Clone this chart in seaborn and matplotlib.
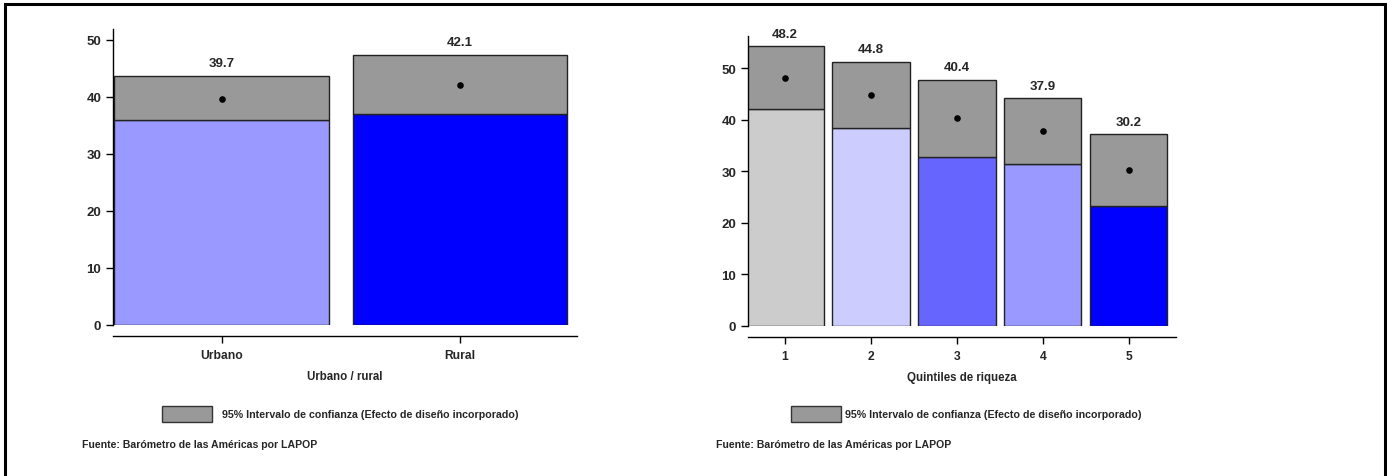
import numpy as np
import pandas as pd
import seaborn as sns
import matplotlib.pyplot as plt
from matplotlib.patches import Rectangle

# data
area_cats = ['Urbano', 'Rural']
area_mean = [39.7, 42.1]
area_lo = [35.9, 37.0]
area_hi = [43.6, 47.3]
area_colors = ['#9999ff', '#0000ff']

quint_cats = ['1', '2', '3', '4', '5']
quint_mean = [48.2, 44.8, 40.4, 37.9, 30.2]
quint_lo = [42.2, 38.4, 32.9, 31.5, 23.2]
quint_hi = [54.3, 51.3, 47.8, 44.2, 37.2]
quint_colors = ['#cccccc', '#ccccff', '#6666ff', '#9999ff', '#0000ff']

ci_color = '#999999'
legend_text = '95% Intervalo de confianza (Efecto de diseño incorporado)'
source_text = 'Fuente: Barómetro de las Américas por LAPOP'

sns.set_style('white')
plt.rcParams['font.family'] = ['Liberation Sans', 'DejaVu Sans']
plt.rcParams['font.weight'] = 'bold'

fig = plt.figure(figsize=(13.87, 4.77), dpi=100)
W, H = 1387, 477


def px_axes(x0, y0, x1, y1):
    return fig.add_axes([x0 / W, 1 - y1 / H, (x1 - x0) / W, (y1 - y0) / H])


def panel(ax, cats, mean, lo, hi, colors, width, ylim, xlim, xlabel, ticks):
    df = pd.DataFrame({'cat': cats, 'lo': lo})
    sns.barplot(data=df, x='cat', y='lo', hue='cat', palette=colors, legend=False,
                width=width, edgecolor='#222222', linewidth=1, saturation=1, ax=ax)
    ax.bar(range(len(cats)), np.array(hi) - np.array(lo), bottom=lo, width=width,
           color=ci_color, edgecolor='#222222', linewidth=1)
    ax.scatter(range(len(cats)), mean, color='black', s=14, zorder=5)
    for i, m in enumerate(mean):
        ax.text(i, hi[i] + 1.3, f'{m:.1f}', ha='center', va='bottom',
                fontsize=9.5, fontweight='bold')
    ax.set_ylim(*ylim)
    ax.set_xlim(*xlim)
    ax.set_yticks(ticks)
    ax.set_xlabel(xlabel, fontsize=8.3, fontweight='bold', labelpad=7)
    ax.set_ylabel('')
    for s in ['top', 'right']:
        ax.spines[s].set_visible(False)
    ax.spines['bottom'].set_position(('outward', 8))
    ax.spines['left'].set_color('black')
    ax.spines['bottom'].set_color('black')
    ax.spines['left'].set_linewidth(1)
    ax.spines['bottom'].set_linewidth(1)
    ax.tick_params(axis='both', which='both', length=5, width=1,
                   left=True, bottom=True, color='black')
    ax.tick_params(axis='y', labelsize=9.5)
    ax.tick_params(axis='x', labelsize=8.7, pad=4)
    for lab in ax.get_xticklabels() + ax.get_yticklabels():
        lab.set_fontweight('bold')


ax1 = px_axes(113, 30, 577, 326)
panel(ax1, area_cats, area_mean, area_lo, area_hi, area_colors, 0.9,
      (0, 51.9), (-0.456, 1.49), 'Urbano / rural', [0, 10, 20, 30, 40, 50])

ax2 = px_axes(748, 37, 1176, 327)
panel(ax2, quint_cats, quint_mean, quint_lo, quint_hi, quint_colors, 0.9,
      (0, 56.3), (-0.43, 4.55), 'Quintiles de riqueza', [0, 10, 20, 30, 40, 50])

# legends and source notes
for (px0, tx, sx) in [(162, 222, 82), (791, 845, 716)]:
    fig.patches.append(Rectangle((px0 / W, 1 - 423 / H), 50 / W, 16 / H,
                                 transform=fig.transFigure, facecolor=ci_color,
                                 edgecolor='#333333', linewidth=1))
    fig.text(tx / W, 1 - 415 / H, legend_text, fontsize=7.7, fontweight='bold',
             va='center', ha='left')
    fig.text(sx / W, 1 - 445 / H, source_text, fontsize=7.6, fontweight='bold',
             va='center', ha='left')

# outer frame
fig.patches.append(Rectangle((5 / W, -0.05), 1380 / W, 1 - 5 / H + 0.05,
                             transform=fig.transFigure, fill=False,
                             edgecolor='black', linewidth=2.2))

fig.savefig('out.png', dpi=100)
